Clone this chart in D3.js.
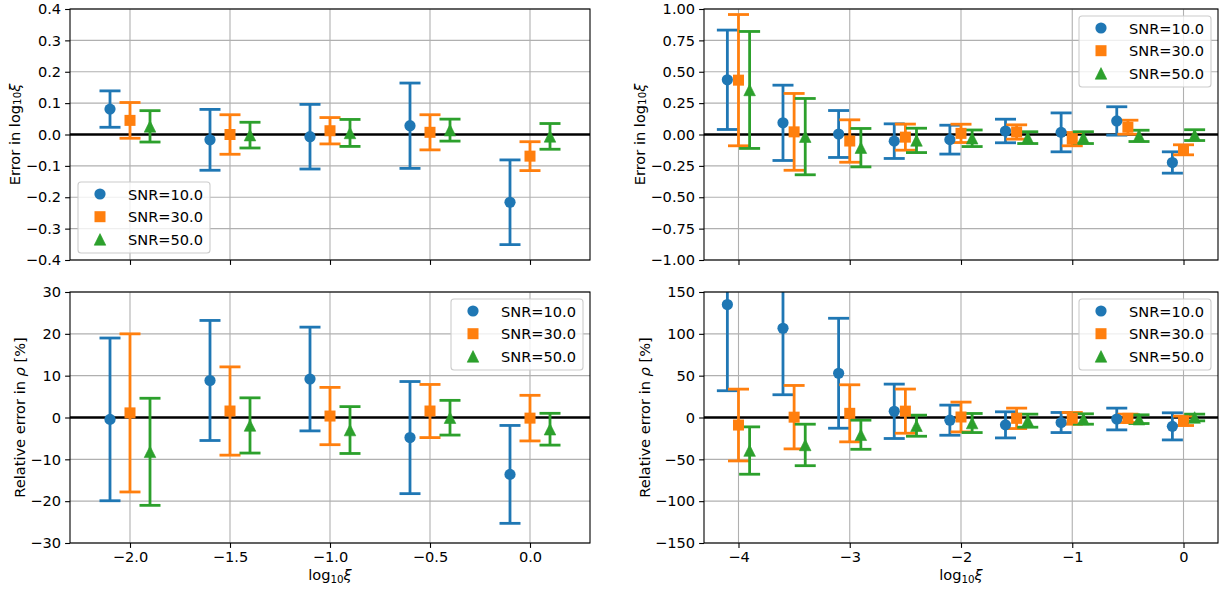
<!DOCTYPE html>
<html><head><meta charset="utf-8">
<script src="https://cdn.jsdelivr.net/npm/d3@7"></script>
<style>
body{margin:0;background:#fff}
svg{display:block}
text{font-family:"DejaVu Sans",sans-serif}
</style>
</head><body>
<svg id="c" width="1225" height="593"></svg>
<script>
// ---------------- data ----------------
const snrLabels = ["SNR=10.0", "SNR=30.0", "SNR=50.0"];
const seriesOffsets = [-0.1, 0.0, 0.1];
const colors = ["#1f77b4", "#ff7f0e", "#2ca02c"];
const markers = ["circle", "square", "triangle"];

const xLeft = [-2.0, -1.5, -1.0, -0.5, 0.0];
const xRight = [-4.0, -3.5, -3.0, -2.5, -2.0, -1.5, -1.0, -0.5, 0.0];

// top-left: error in log10 xi
const tlVal10 = [0.081, -0.017, -0.007, 0.028, -0.216];
const tlErr10 = [0.058, 0.097, 0.103, 0.136, 0.135];
const tlVal30 = [0.045, 0.000, 0.012, 0.007, -0.069];
const tlErr30 = [0.057, 0.063, 0.042, 0.056, 0.046];
const tlVal50 = [0.026, -0.002, 0.005, 0.014, -0.006];
const tlErr50 = [0.050, 0.041, 0.043, 0.035, 0.041];

// top-right: error in log10 xi
const trVal10 = [0.436, 0.093, 0.004, -0.053, -0.041, 0.028, 0.017, 0.108, -0.223];
const trErr10 = [0.396, 0.300, 0.187, 0.138, 0.115, 0.094, 0.155, 0.113, 0.085];
const trVal30 = [0.433, 0.021, -0.052, -0.021, 0.009, 0.020, -0.037, 0.058, -0.122];
const trErr30 = [0.523, 0.306, 0.169, 0.104, 0.073, 0.057, 0.053, 0.056, 0.040];
const trVal50 = [0.355, -0.017, -0.105, -0.047, -0.030, -0.025, -0.025, -0.011, -0.005];
const trErr50 = [0.466, 0.304, 0.153, 0.097, 0.066, 0.047, 0.047, 0.045, 0.043];

// bottom-left: relative error in rho [%]
const blVal10 = [-0.45, 8.85, 9.2, -4.8, -13.6];
const blErr10 = [19.45, 14.35, 12.4, 13.4, 11.7];
const blVal30 = [1.1, 1.55, 0.35, 1.55, -0.15];
const blErr30 = [18.9, 10.55, 6.85, 6.35, 5.45];
const blVal50 = [-8.2, -1.9, -3.0, -0.05, -2.8];
const blErr50 = [12.8, 6.6, 5.6, 4.15, 3.8];

// bottom-right: relative error in rho [%]
const brVal10 = [135.0, 106.6, 52.9, 7.4, -3.2, -8.8, -6.0, -1.8, -10.6];
const brErr10 = [103.0, 79.4, 65.7, 32.5, 18.0, 15.6, 12.0, 13.0, 16.2];
const brVal30 = [-9.0, 0.4, 5.0, 7.6, 0.6, -1.0, -1.0, -1.0, -4.0];
const brErr30 = [42.9, 37.9, 34.1, 26.4, 17.8, 12.2, 7.0, 5.0, 5.6];
const brVal50 = [-39.5, -32.8, -20.6, -9.8, -6.6, -3.8, -1.8, -2.0, 0.0];
const brErr50 = [28.3, 24.8, 17.4, 12.6, 11.4, 7.8, 6.2, 5.2, 4.0];

// ticks
const xTicksLeft = [-2.0, -1.5, -1.0, -0.5, 0.0];
const xTicksRight = [-4, -3, -2, -1, 0];
const yTicksTL = [-0.4, -0.3, -0.2, -0.1, 0.0, 0.1, 0.2, 0.3, 0.4];
const yTicksTR = [-1.0, -0.75, -0.5, -0.25, 0.0, 0.25, 0.5, 0.75, 1.0];
const yTicksBL = [-30, -20, -10, 0, 10, 20, 30];
const yTicksBR = [-150, -100, -50, 0, 50, 100, 150];

// ---------------- drawing ----------------
const svg = d3.select("#c");
const FS = 14.6;
const SUB = 10.3;

function addRich(sel, parts) {
  parts.forEach(p => {
    const ts = sel.append("tspan").text(p.t);
    if (p.sub) ts.attr("font-size", SUB).attr("dy", 3.3);
    if (p.back) ts.attr("dy", -3.3);
    if (p.it) ts.attr("font-style", "italic");
  });
}
const lblLogXi = [{t: "log"}, {t: "10", sub: true}, {t: "ξ", it: true, back: true}];
const lblErrLog = [{t: "Error in log"}, {t: "10", sub: true}, {t: "ξ", it: true, back: true}];
const lblRelRho = [{t: "Relative error in "}, {t: "ρ", it: true}, {t: " [%]"}];

function drawMarker(g, type, cx, cy, color) {
  if (type === "circle") {
    g.append("circle").attr("cx", cx).attr("cy", cy).attr("r", 5.6).attr("fill", color);
  } else if (type === "square") {
    g.append("rect").attr("x", cx - 5.5).attr("y", cy - 5.5).attr("width", 11).attr("height", 11).attr("fill", color);
  } else {
    const h = 5.8;
    g.append("path").attr("d", `M${cx},${cy - h}L${cx + h},${cy + h}L${cx - h},${cy + h}Z`)
      .attr("fill", color).attr("stroke", color).attr("stroke-width", 0.6).attr("stroke-linejoin", "miter");
  }
}

let clipId = 0;
function drawPanel(cfg) {
  const x = d3.scaleLinear().domain(cfg.xDomain).range([cfg.x0, cfg.x1]);
  const y = d3.scaleLinear().domain(cfg.yDomain).range([cfg.y1, cfg.y0]);
  const g = svg.append("g");
  const id = "clip" + (clipId++);
  g.append("clipPath").attr("id", id).append("rect")
    .attr("x", cfg.x0).attr("y", cfg.y0).attr("width", cfg.x1 - cfg.x0).attr("height", cfg.y1 - cfg.y0);

  // grid
  const grid = g.append("g").attr("stroke", "#b0b0b0").attr("stroke-width", 1.1);
  cfg.xTicks.forEach(t => grid.append("line").attr("x1", x(t)).attr("x2", x(t)).attr("y1", cfg.y0).attr("y2", cfg.y1));
  cfg.yTicks.forEach(t => grid.append("line").attr("x1", cfg.x0).attr("x2", cfg.x1).attr("y1", y(t)).attr("y2", y(t)));

  const data = g.append("g").attr("clip-path", `url(#${id})`);
  // zero line
  data.append("line").attr("x1", cfg.x0).attr("x2", cfg.x1).attr("y1", y(0)).attr("y2", y(0))
    .attr("stroke", "#000").attr("stroke-width", 2.6);

  // error bars
  cfg.vals.forEach((vals, s) => {
    const eg = data.append("g").attr("stroke", colors[s]).attr("stroke-width", 2.8);
    vals.forEach((v, i) => {
      const xv = x(cfg.xBase[i] + seriesOffsets[s]);
      const lo = y(v - cfg.errs[s][i]), hi = y(v + cfg.errs[s][i]);
      eg.append("line").attr("x1", xv).attr("x2", xv).attr("y1", lo).attr("y2", hi);
      eg.append("line").attr("x1", xv - 10.5).attr("x2", xv + 10.5).attr("y1", lo).attr("y2", lo);
      eg.append("line").attr("x1", xv - 10.5).attr("x2", xv + 10.5).attr("y1", hi).attr("y2", hi);
    });
  });
  // markers
  cfg.vals.forEach((vals, s) => {
    const mg = data.append("g");
    vals.forEach((v, i) => drawMarker(mg, markers[s], x(cfg.xBase[i] + seriesOffsets[s]), y(v), colors[s]));
  });

  // axes
  const xAxis = d3.axisBottom(x).tickValues(cfg.xTicks).tickSizeInner(4.9).tickSizeOuter(0).tickPadding(4.0)
    .tickFormat(cfg.showXLabels ? cfg.xFmt : () => "");
  const yAxis = d3.axisLeft(y).tickValues(cfg.yTicks).tickSizeInner(4.9).tickSizeOuter(0).tickPadding(4.0)
    .tickFormat(cfg.yFmt);
  const xa = g.append("g").attr("transform", `translate(0,${cfg.y1})`).call(xAxis);
  const ya = g.append("g").attr("transform", `translate(${cfg.x0},0)`).call(yAxis);
  [xa, ya].forEach(a => {
    a.select(".domain").remove();
    a.selectAll(".tick line").attr("stroke", "#000").attr("stroke-width", 1.1);
    a.selectAll(".tick text").attr("fill", "#000").attr("font-size", FS).attr("font-family", "DejaVu Sans");
  });
  // spines
  g.append("rect").attr("x", cfg.x0).attr("y", cfg.y0).attr("width", cfg.x1 - cfg.x0).attr("height", cfg.y1 - cfg.y0)
    .attr("fill", "none").attr("stroke", "#000").attr("stroke-width", 1.1);

  // y label
  const yl = g.append("text").attr("transform", `translate(${cfg.ylabelX},${(cfg.y0 + cfg.y1) / 2}) rotate(-90)`)
    .attr("text-anchor", "middle").attr("dominant-baseline", "central").attr("font-size", FS).attr("fill", "#000");
  addRich(yl, cfg.ylabel);
  if (cfg.showXLabels) {
    const xl = g.append("text").attr("x", (cfg.x0 + cfg.x1) / 2).attr("y", 580)
      .attr("text-anchor", "middle").attr("font-size", FS).attr("fill", "#000");
    addRich(xl, lblLogXi);
  }

  // legend
  const L = cfg.legend;
  const lg = g.append("g");
  lg.append("rect").attr("x", L.x).attr("y", L.y).attr("width", 132).attr("height", 71).attr("rx", 3)
    .attr("fill", "#fff").attr("fill-opacity", 0.8).attr("stroke", "#cccccc").attr("stroke-width", 1.1);
  snrLabels.forEach((lab, s) => {
    const ry = L.y + 12 + s * 22.7;
    drawMarker(lg, markers[s], L.x + 22, ry, colors[s]);
    lg.append("text").attr("x", L.x + 50).attr("y", ry).attr("dominant-baseline", "central")
      .attr("font-size", FS).attr("fill", "#000").text(lab);
  });
}

const fmt1 = d3.format(".1f"), fmt2 = d3.format(".2f"), fmtD = d3.format("d");

drawPanel({x0: 70, x1: 590, y0: 9, y1: 260, xDomain: [-2.3, 0.3], yDomain: [-0.4, 0.4],
  xTicks: xTicksLeft, yTicks: yTicksTL, xFmt: fmt1, yFmt: fmt1, showXLabels: false,
  ylabel: lblErrLog, ylabelX: 14, xBase: xLeft,
  vals: [tlVal10, tlVal30, tlVal50], errs: [tlErr10, tlErr30, tlErr50], legend: {x: 78, y: 182}});

drawPanel({x0: 704, x1: 1218, y0: 9, y1: 260, xDomain: [-4.31, 0.31], yDomain: [-1, 1],
  xTicks: xTicksRight, yTicks: yTicksTR, xFmt: fmtD, yFmt: fmt2, showXLabels: false,
  ylabel: lblErrLog, ylabelX: 639, xBase: xRight,
  vals: [trVal10, trVal30, trVal50], errs: [trErr10, trErr30, trErr50], legend: {x: 1079, y: 16}});

drawPanel({x0: 70, x1: 590, y0: 292, y1: 543, xDomain: [-2.3, 0.3], yDomain: [-30, 30],
  xTicks: xTicksLeft, yTicks: yTicksBL, xFmt: fmt1, yFmt: fmtD, showXLabels: true,
  ylabel: lblRelRho, ylabelX: 19, xBase: xLeft,
  vals: [blVal10, blVal30, blVal50], errs: [blErr10, blErr30, blErr50], legend: {x: 451, y: 299}});

drawPanel({x0: 704, x1: 1218, y0: 292, y1: 543, xDomain: [-4.31, 0.31], yDomain: [-150, 150],
  xTicks: xTicksRight, yTicks: yTicksBR, xFmt: fmtD, yFmt: fmtD, showXLabels: true,
  ylabel: lblRelRho, ylabelX: 644, xBase: xRight,
  vals: [brVal10, brVal30, brVal50], errs: [brErr10, brErr30, brErr50], legend: {x: 1079, y: 299}});
</script>
</body></html>
